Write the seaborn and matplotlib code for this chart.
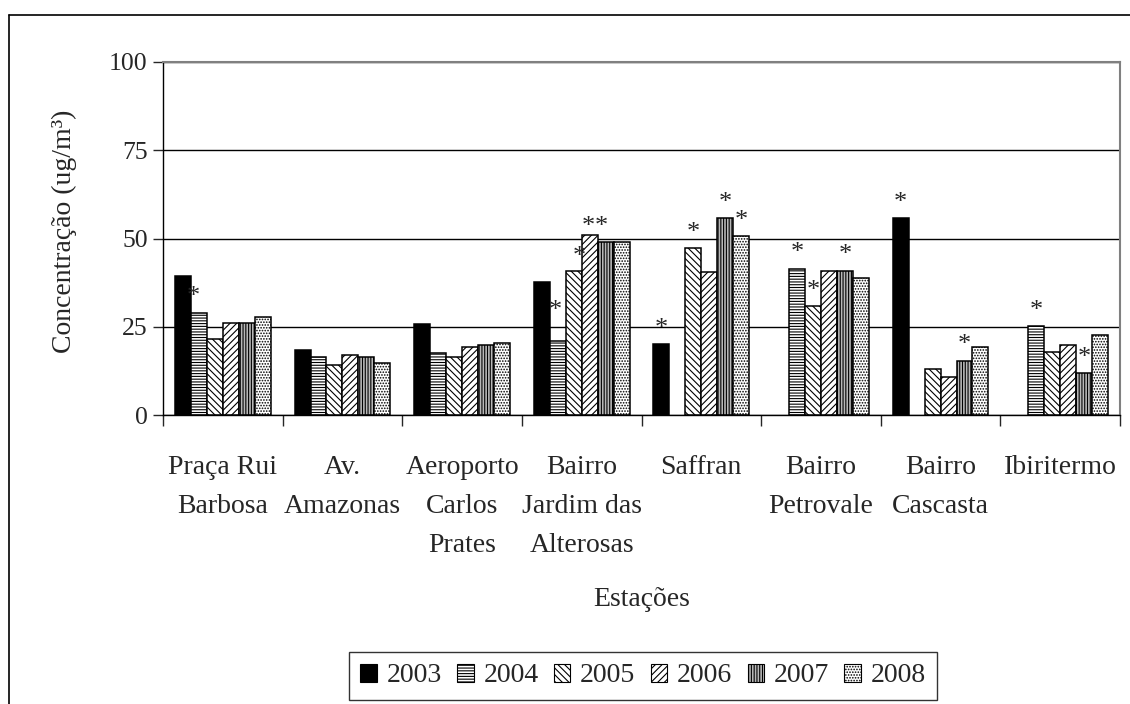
import numpy as np
import pandas as pd
import matplotlib
matplotlib.use("Agg")
import matplotlib.pyplot as plt
import matplotlib.patches as mpatches
from matplotlib.lines import Line2D
import seaborn as sns

# === Dados
stations = ["Praça Rui\nBarbosa", "Av.\nAmazonas", "Aeroporto\nCarlos\nPrates",
            "Bairro\nJardim das\nAlterosas", "Saffran", "Bairro\nPetrovale",
            "Bairro\nCascasta", "Ibiritermo"]
years = ["2003", "2004", "2005", "2006", "2007", "2008"]

v2003 = [39.3, 18.3, 25.8, 37.6, 20.0, np.nan, 55.8, np.nan]
v2004 = [29.0, 16.5, 17.7, 21.1, np.nan, 41.5, np.nan, 25.2]
v2005 = [21.6, 14.2, 16.5, 40.9, 47.2, 30.8, 13.1, 17.8]
v2006 = [26.1, 17.0, 19.3, 51.0, 40.4, 40.9, 10.8, 19.9]
v2007 = [26.1, 16.4, 19.8, 48.9, 55.7, 40.9, 15.4, 11.9]
v2008 = [27.9, 14.7, 20.4, 48.9, 50.6, 38.7, 19.2, 22.8]

# barras marcadas com asterisco (estação, ano)
star_marks = [(0, "2004"), (3, "2004"), (3, "2005"), (3, "2006"), (3, "2007"),
              (4, "2003"), (4, "2005"), (4, "2007"), (4, "2008"),
              (5, "2004"), (5, "2005"), (5, "2007"),
              (6, "2003"), (6, "2007"),
              (7, "2004"), (7, "2007")]

# === Estilo
PALETTE = {"2003": "black", "2004": "white", "2005": "white",
           "2006": "white", "2007": "#b8b8b8", "2008": "white"}
HATCHES = {"2003": "", "2004": "------", "2005": "\\\\\\\\\\", "2006": "/////",
           "2007": "||||||", "2008": "......"}
star_nudge = {(0, "2004"): (-4, 0), (3, "2004"): (-2, 10), (3, "2005"): (4, -1),
              (3, "2006"): (-1, -5), (3, "2007"): (-3, 0)}

sns.set_style("white")
plt.rcParams["font.family"] = ["Liberation Serif", "DejaVu Serif"]
plt.rcParams["hatch.linewidth"] = 0.8

df = pd.DataFrame({"Estação": stations * 6,
                   "Ano": np.repeat(years, len(stations)),
                   "Valor": v2003 + v2004 + v2005 + v2006 + v2007 + v2008})
df = df.dropna()

fig = plt.figure(figsize=(11.3, 7.04), dpi=100)
ax = fig.add_axes([163 / 1130, 1 - 415 / 704, 957 / 1130, 353 / 704])

sns.barplot(data=df, x="Estação", y="Valor", hue="Ano", order=stations,
            hue_order=years, palette=PALETTE, edgecolor="black", linewidth=1.1,
            errorbar=None, width=0.8, legend=False, ax=ax)

for yr, cont in zip(years, ax.containers):
    for bar in cont:
        bar.set_hatch(HATCHES[yr])

# === Asteriscos
n = len(years)
for st, yr in star_marks:
    k = years.index(yr)
    val = df[(df["Estação"] == stations[st]) & (df["Ano"] == yr)]["Valor"].iloc[0]
    xc = st - 0.4 + (k + 0.5) * 0.8 / n
    dx, dy = star_nudge.get((st, yr), (0, 0))
    ax.annotate("*", xy=(xc, val), xytext=(dx, 11 + dy), textcoords="offset points",
                ha="center", va="center", fontsize=19)

# === Eixos
ax.set_xlim(-0.5, len(stations) - 0.5)
ax.set_ylim(0, 100)
ax.set_yticks([0, 25, 50, 75, 100])
ax.tick_params(axis="y", direction="out", length=7, width=1, labelsize=18.5, pad=4, left=True)
ax.set_xticks(np.arange(len(stations)))
ax.set_xticklabels(stations, fontsize=20, linespacing=1.72, va="top")
ax.set_xticks(np.arange(len(stations) + 1) - 0.5, minor=True)
ax.tick_params(axis="x", which="major", length=0, pad=29)
ax.tick_params(axis="x", which="minor", direction="out", length=8, width=1, bottom=True)

ax.yaxis.grid(True, color="black", linewidth=1.0)
ax.set_axisbelow(True)
for side in ["top", "right"]:
    ax.spines[side].set_color("#808080")
    ax.spines[side].set_linewidth(1.5)
for side in ["left", "bottom"]:
    ax.spines[side].set_color("black")
    ax.spines[side].set_linewidth(1.0)

ax.set_ylabel("Concentração (ug/m³)", fontsize=20)
ax.yaxis.set_label_coords(-0.09, 0.52)
ax.set_xlabel("Estações", fontsize=20)
ax.xaxis.set_label_coords(0.5, -0.524)
ax.xaxis.label.set_va("center")

# === Legenda
handles = [mpatches.Patch(facecolor=PALETTE[yr], edgecolor="black", hatch=HATCHES[yr],
                          linewidth=0.8, label=yr) for yr in years]
leg = fig.legend(handles=handles, loc="center", ncol=6, bbox_to_anchor=(643 / 1130, 1 - 676 / 704),
                 fontsize=20, frameon=True, fancybox=False, handlelength=0.6, handleheight=0.6,
                 handletextpad=0.35, columnspacing=0.55, borderpad=0.4)
leg.get_frame().set_edgecolor("black")
leg.get_frame().set_linewidth(1.0)

# === Moldura externa
fig.add_artist(Line2D([8.5 / 1130, 1.0], [1 - 15 / 704] * 2, color="black", linewidth=1.2))
fig.add_artist(Line2D([8.5 / 1130] * 2, [0.0, 1 - 15 / 704], color="black", linewidth=1.2))

fig.savefig("out.png", dpi=100)
